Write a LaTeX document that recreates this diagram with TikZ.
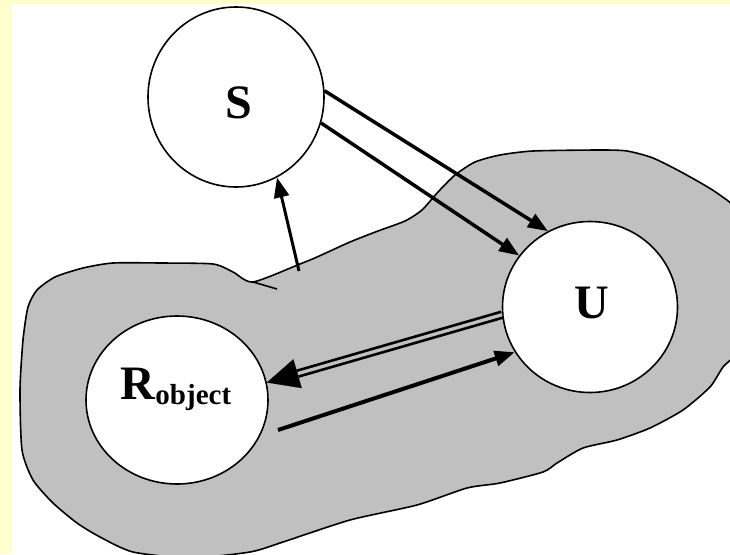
\documentclass[tikz,border=0pt]{standalone}
\usepackage{fontspec}
\setmainfont{Liberation Serif}
\usetikzlibrary{arrows.meta,shapes.geometric,calc}
\definecolor{bgyellow}{RGB}{255,255,204}
\definecolor{blobgray}{RGB}{192,192,192}
\begin{document}
\begin{tikzpicture}[x=1pt,y=-1pt,
  bubble/.style={ellipse, draw=black, line width=1.6pt, fill=white, inner sep=0pt},
  lbl/.style={font=\fontsize{48}{52}\selectfont\bfseries, inner sep=0pt},
  arr/.style={line width=3.5pt, -{Triangle[length=20pt,width=15pt]}},
  ]
\useasboundingbox (0,0) rectangle (730,554);
\fill[bgyellow] (0,0) rectangle (730,554);
\fill[white] (11,4) rectangle (730,554);
\begin{scope}
\clip (11,4) rectangle (730,554);
\draw[fill=blobgray, line width=1.6pt] plot[smooth cycle, tension=0.4] coordinates {
(253,282) (300,264) (317,257) (350,242) (378,231) (405,221) (422,210) (438,192)
(455,175) (475,162) (500,155) (533,151) (600,150) (627,151) (653,158) (683,173)
(717,193) (740,215) (748,280) (742,345) (723,367) (710,387) (683,410) (650,428)
(617,440) (583,448) (557,463) (543,472) (500,483) (467,488) (417,505) (350,520)
(283,542) (250,552) (190,558) (133,552) (100,537) (77,523) (53,503) (33,480)
(22,450) (20,390) (23,340) (28,307) (37,290) (55,277) (83,268) (113,263)
(160,263) (213,264) (233,272)};
\end{scope}
\draw[line width=1.6pt] (253,282) -- (277,289);

\node[bubble, minimum width=176pt, minimum height=180pt] (S) at (236,97) {};
\node[lbl] (Slabel) at (239,103) {S};
\node[bubble, minimum width=175pt, minimum height=171pt] (U) at (590,307) {};
\node[lbl] (Ulabel) at (592,303) {U};
\node[bubble, minimum width=182pt, minimum height=168pt] (R) at (177,400) {};
\node[lbl, anchor=base] (Rlabel) at (176,399) {R\raisebox{-5pt}{\fontsize{29}{31}\selectfont object}};

\draw[arr] (S.4) -- (U.119);
\draw[arr] (S.-17) -- (U.144);
\coordinate (a1) at (299,271);
\draw[arr, line width=3pt] (a1) -- (S.-63);

\coordinate (dbase) at ($(R.11)!32pt!(U.185)$);
\draw[line width=2.7pt, double=blobgray, double distance=3.3pt] (U.185) -- (dbase);
\draw[line width=0.1pt, -{Triangle[length=32pt,width=30pt]}] (dbase) -- (R.11);

\coordinate (a2) at (278,430);
\draw[arr, line width=4pt] (a2) -- (U.-149);
\end{tikzpicture}
\end{document}
